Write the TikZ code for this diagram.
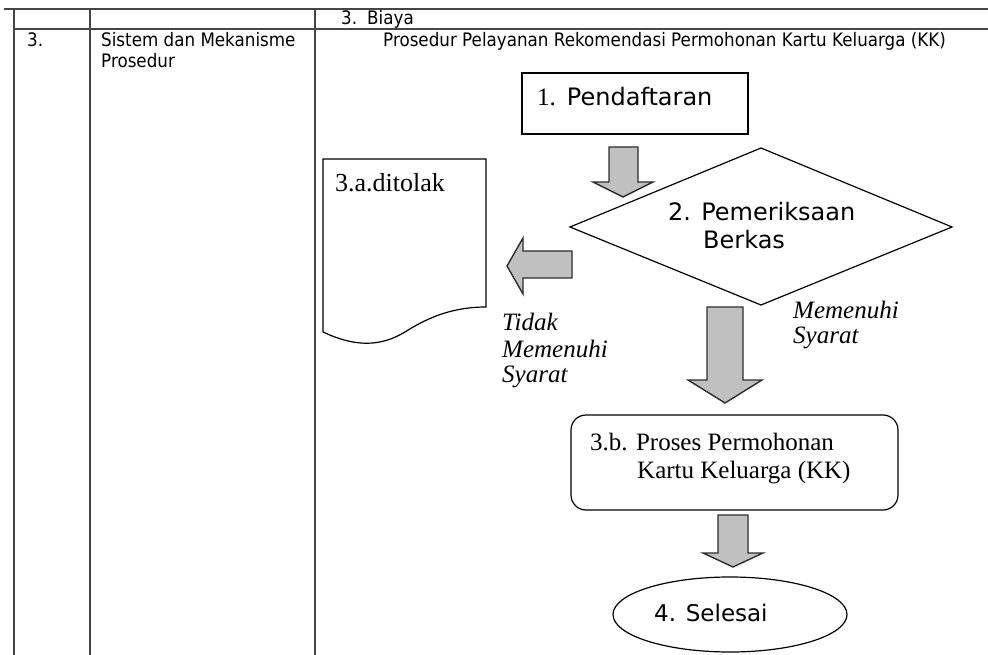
\documentclass[tikz,border=0pt]{standalone}
\usepackage{fontspec}
\setmainfont{Liberation Serif}
\newfontfamily\tah[FakeStretch=0.9]{DejaVu Sans}
\newfontfamily\tahw{DejaVu Sans}
\usetikzlibrary{calc}
\definecolor{tline}{RGB}{70,70,70}
\definecolor{arrfill}{RGB}{192,192,192}
\definecolor{arrline}{RGB}{45,45,45}
\tikzset{
  tabline/.style={draw=tline, line width=1.2pt},
  tabtext/.style={anchor=base west, inner sep=0pt, font=\tah\fontsize{18.6}{21}\selectfont},
  flowsans/.style={anchor=base west, inner sep=0pt, font=\tahw\fontsize{24}{28}\selectfont},
  flowserif/.style={anchor=base west, inner sep=0pt, font=\fontsize{25}{28}\selectfont},
  flowital/.style={anchor=base west, inner sep=0pt, font=\itshape\fontsize{25}{28}\selectfont},
  shapeline/.style={draw=black, line width=1.2pt},
  blockarrow/.style={draw=arrline, fill=arrfill, line width=1.4pt, line join=miter},
}
\begin{document}
\begin{tikzpicture}[x=1pt,y=-1pt]
\useasboundingbox (0,0) rectangle (988,655);
\fill[white] (0,0) rectangle (988,655);

% table grid
\coordinate (tl) at (4,9);
\coordinate (tr) at (988,9);
\coordinate (ml) at (14,29);
\coordinate (mr) at (988,29);
\coordinate (v1t) at (14,9);   \coordinate (v1b) at (14,655);
\coordinate (v2t) at (90,9);   \coordinate (v2b) at (90,655);
\coordinate (v3t) at (315,9);  \coordinate (v3b) at (315,655);
\draw[tabline] (tl) -- (tr);
\draw[tabline] (ml) -- (mr);
\draw[tabline] (v1t) -- (v1b);
\draw[tabline] (v2t) -- (v2b);
\draw[tabline] (v3t) -- (v3b);

% table texts
\node[tabtext] (n3a) at (341,25) {3.};
\node[tabtext] (biaya) at (367,25) {Biaya};
\node[tabtext] (no3) at (27,47) {3.};
\node[tabtext] (sis1) at (101,47) {Sistem dan Mekanisme};
\node[tabtext] (sis2) at (101,68) {Prosedur};
\node[tabtext] (judul) at (383,47) {Prosedur Pelayanan Rekomendasi Permohonan Kartu Keluarga (KK)};

% 1. Pendaftaran
\node[shapeline, rectangle, minimum width=226pt, minimum height=61pt, inner sep=0pt] (b1) at (635,103.5) {};
\node[anchor=base west, inner sep=0pt] (b1t) at (537,106) {\fontsize{25}{28}\selectfont 1.\hspace{11pt}\tahw\fontsize{24}{28}\selectfont Pendaftaran};

% 2. diamond
\coordinate (dl) at (570,227);
\coordinate (dt) at (761,148);
\coordinate (dr) at (952,227);
\coordinate (db) at (761,305);
\draw[shapeline, line join=miter] (dl) -- (dt) -- (dr) -- (db) -- cycle;
\node[flowsans] (d1) at (668,221) {2. Pemeriksaan};
\node[flowsans] (d2) at (703,249) {Berkas};

% 3.a document
\coordinate (docA) at (323,159);
\coordinate (docB) at (486,159);
\coordinate (docC) at (486,307);
\coordinate (docD) at (323,332);
\draw[shapeline] (docD) -- (docA) -- (docB) -- (docC)
  .. controls (455,307) and (430,316) .. (405,332)
  .. controls (380,347) and (355,347) .. (docD);
\node[anchor=base west, inner sep=0pt, font=\fontsize{26}{28}\selectfont] (doct) at (335,192) {3.a.ditolak};

% 3.b rounded box
\node[shapeline, rectangle, rounded corners=15pt, minimum width=327pt, minimum height=95pt, inner sep=0pt] (b3) at (734.5,462.5) {};
\node[flowserif] (b3t1) at (590,450) {3.b. Proses Permohonan};
\node[flowserif] (b3t2) at (637,478) {Kartu Keluarga (KK)};

% 4. ellipse
\draw[shapeline] (730,614.5) ellipse [x radius=117pt, y radius=37.5pt];
\coordinate (ell) at (730,614.5);
\node[anchor=base west, inner sep=0pt] (ellt) at (654,621) {\tahw\fontsize{23}{28}\selectfont 4. Selesai};

% block arrows
% A1: box1 -> diamond
\draw[blockarrow] (609,147) -- (638,147) -- (638,182) -- (653,182) -- (623,197) -- (593,182) -- (609,182) -- cycle;
% A2: diamond -> document
\draw[blockarrow] (572,251) -- (572,278) -- (523,278) -- (523,294) -- (507,266) -- (523,238) -- (523,251) -- cycle;
% A3: diamond -> 3.b
\draw[blockarrow] (707,307) -- (743,307) -- (743,380) -- (762,380) -- (725,403) -- (688,380) -- (707,380) -- cycle;
% A4: 3.b -> ellipse
\draw[blockarrow] (718,515) -- (748,515) -- (748,553) -- (763,553) -- (733,567) -- (703,553) -- (718,553) -- cycle;

% labels
\node[flowital] (lm1) at (793,318) {Memenuhi};
\node[flowital] (lm2) at (793,343) {Syarat};
\node[flowital] (lt1) at (502,330) {Tidak};
\node[flowital] (lt2) at (502,357) {Memenuhi};
\node[flowital] (lt3) at (502,382) {Syarat};
\end{tikzpicture}
\end{document}
